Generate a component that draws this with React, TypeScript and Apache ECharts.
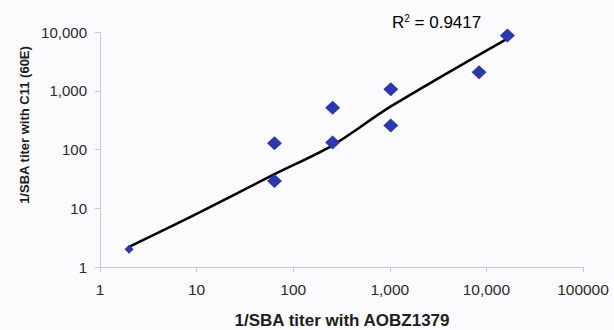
import React, { useEffect, useRef } from "react";
import * as echarts from "echarts";

// Measured points (1/SBA titer)
const xAOBZ = [2, 64, 64, 256, 256, 1024, 1024, 8400, 16500];
const yC11 = [2, 128, 29, 132, 512, 1060, 256, 2070, 8700];

// Trend line
const trendX = [2, 10, 64, 256, 1024, 16000];
const trendY = [2.2, 8, 38, 118, 540, 7500];

const xTickValues = [1, 10, 100, 1000, 10000, 100000];
const xTickLabels = ["1", "10", "100", "1,000", "10,000", "100000"];
const yTickValues = [1, 10, 100, 1000, 10000];
const yTickLabels = ["1", "10", "100", "1,000", "10,000"];

const xTitle = "1/SBA titer with AOBZ1379";
const yTitle = "1/SBA titer with C11 (60E)";
const r2Text = "0.9417";

const FONT = "'Liberation Sans', Arial, sans-serif";

function labelFor(values: number[], labels: string[]) {
  return (v: number) => {
    const i = values.findIndex((t) => Math.abs(Math.log10(t) - Math.log10(v)) < 1e-6);
    return i >= 0 ? labels[i] : "";
  };
}

export default function App() {
  const ref = useRef<HTMLDivElement>(null);
  useEffect(() => {
    if (!ref.current) return;
    const chart = echarts.init(ref.current, undefined, { renderer: "svg" });
    const axisColor = "#c3cad8";
    chart.setOption({
      animation: false,
      backgroundColor: "#fbfbfe",
      grid: { left: 100, right: 31, top: 32, bottom: 63 },
      xAxis: {
        type: "log",
        logBase: 10,
        min: 1,
        max: 100000,
        axisLine: { show: true, lineStyle: { color: axisColor, width: 1 } },
        axisTick: { show: true, length: 5, lineStyle: { color: axisColor } },
        minorTick: { show: false },
        splitLine: { show: false },
        axisLabel: {
          margin: 14,
          fontSize: 15.5,
          color: "#2b2b2b",
          fontFamily: FONT,
          formatter: labelFor(xTickValues, xTickLabels),
        },
      },
      yAxis: {
        type: "log",
        logBase: 10,
        min: 1,
        max: 10000,
        axisLine: { show: true, lineStyle: { color: axisColor, width: 1 } },
        axisTick: { show: true, length: 5, lineStyle: { color: axisColor } },
        splitLine: { show: false },
        axisLabel: {
          margin: 13,
          fontSize: 15,
          color: "#2b2b2b",
          fontFamily: FONT,
          formatter: labelFor(yTickValues, yTickLabels),
        },
      },
      series: [
        {
          type: "line",
          data: trendX.map((x, i) => [x, trendY[i]]),
          showSymbol: false,
          symbol: "none",
          smooth: 0.3,
          lineStyle: { color: "#000000", width: 2.6 },
          z: 2,
        },
        {
          type: "scatter",
          data: xAOBZ.map((x, i) => [x, yC11[i]]),
          symbol: "diamond",
          symbolSize: (v: number[]) => (v[0] <= 2 ? [9, 9] : [15, 14]),
          itemStyle: { color: "#2b38b0", opacity: 1 },
          z: 3,
        },
      ],
      graphic: [
        {
          type: "text",
          x: 342,
          y: 320,
          style: {
            text: xTitle,
            font: `bold 17px ${FONT}`,
            fill: "#1e1e1e",
            align: "center",
            verticalAlign: "middle",
          },
        },
        {
          type: "text",
          x: 24,
          y: 125,
          rotation: Math.PI / 2,
          style: {
            text: yTitle,
            font: `bold 13px ${FONT}`,
            fill: "#1e1e1e",
            align: "center",
            verticalAlign: "middle",
          },
        },
        {
          type: "text",
          x: 392,
          y: 22,
          style: {
            text: "{a|R}{s|2}{a| = " + r2Text + "}",
            align: "left",
            verticalAlign: "middle",
            rich: {
              a: { fontSize: 17, fontFamily: FONT, color: "#2b2b2b" },
              s: {
                fontSize: 10,
                fontFamily: FONT,
                color: "#2b2b2b",
                verticalAlign: "top",
                padding: [0, 0, 8, 0],
              },
            },
          },
        },
      ],
    });
    return () => chart.dispose();
  }, []);
  return <div ref={ref} style={{ width: 614, height: 330, position: "absolute", left: 0, top: 0 }} />;
}
